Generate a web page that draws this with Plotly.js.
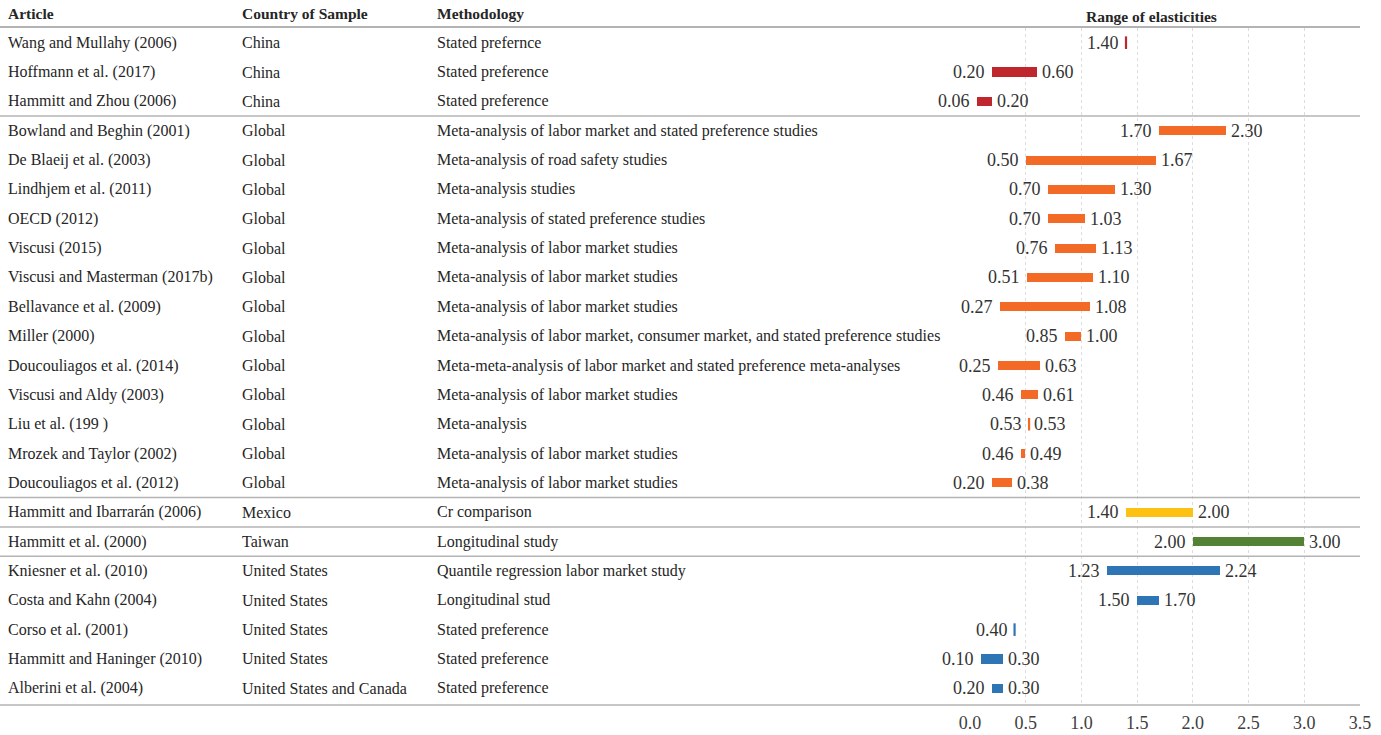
<!DOCTYPE html>
<html>
<head>
<meta charset="utf-8">
<script src="https://cdn.plot.ly/plotly-3.0.1.min.js"></script>
<style>html,body{margin:0;padding:0;background:#fff;}#chart{width:1381px;height:735px;}</style>
</head>
<body>
<div id="chart"></div>
<script>
// ---------- data ----------
const articles = [
  "Wang and Mullahy (2006)", "Hoffmann et al. (2017)", "Hammitt and Zhou (2006)",
  "Bowland and Beghin (2001)", "De Blaeij et al. (2003)", "Lindhjem et al. (2011)",
  "OECD (2012)", "Viscusi (2015)", "Viscusi and Masterman (2017b)", "Bellavance et al. (2009)",
  "Miller (2000)", "Doucouliagos et al. (2014)", "Viscusi and Aldy (2003)", "Liu et al. (199 )",
  "Mrozek and Taylor (2002)", "Doucouliagos et al. (2012)", "Hammitt and Ibarrarán (2006)",
  "Hammitt et al. (2000)", "Kniesner et al. (2010)", "Costa and Kahn (2004)",
  "Corso et al. (2001)", "Hammitt and Haninger (2010)", "Alberini et al. (2004)"
];
const countries = [
  "China", "China", "China",
  "Global", "Global", "Global", "Global", "Global", "Global", "Global",
  "Global", "Global", "Global", "Global", "Global", "Global",
  "Mexico", "Taiwan",
  "United States", "United States", "United States", "United States", "United States and Canada"
];
const methodologies = [
  "Stated prefernce", "Stated preference", "Stated preference",
  "Meta-analysis of labor market and stated preference studies",
  "Meta-analysis of road safety studies",
  "Meta-analysis studies",
  "Meta-analysis of stated preference studies",
  "Meta-analysis of labor market studies",
  "Meta-analysis of labor market studies",
  "Meta-analysis of labor market studies",
  "Meta-analysis of labor market, consumer market, and stated preference studies",
  "Meta-meta-analysis of labor market and stated preference meta-analyses",
  "Meta-analysis of labor market studies",
  "Meta-analysis",
  "Meta-analysis of labor market studies",
  "Meta-analysis of labor market studies",
  "Cr comparison",
  "Longitudinal study",
  "Quantile regression labor market study",
  "Longitudinal stud",
  "Stated preference", "Stated preference", "Stated preference"
];
const lowValues  = [1.40, 0.20, 0.06, 1.70, 0.50, 0.70, 0.70, 0.76, 0.51, 0.27, 0.85, 0.25, 0.46, 0.53, 0.46, 0.20, 1.40, 2.00, 1.23, 1.50, 0.40, 0.10, 0.20];
const highValues = [1.40, 0.60, 0.20, 2.30, 1.67, 1.30, 1.03, 1.13, 1.10, 1.08, 1.00, 0.63, 0.61, 0.53, 0.49, 0.38, 2.00, 3.00, 2.24, 1.70, 0.40, 0.30, 0.30];
// rows whose upper value is not written in the reference
const noHighLabel = ["Wang and Mullahy (2006)", "Corso et al. (2001)"];
const headers = ["Article", "Country of Sample", "Methodology"];
const chartTitle = "Range of elasticities";
const tickValues = [0, 0.5, 1, 1.5, 2, 2.5, 3, 3.5];

// ---------- styles ----------
const groupColors = {
  "China": "#C0262D",
  "Global": "#F26A25",
  "Mexico": "#FDC114",
  "Taiwan": "#548235",
  "United States": "#2E75B6",
  "United States and Canada": "#2E75B6"
};
const W = 1381, H = 735;
const M = {l: 0, r: 0, t: 28, b: 32};
const plotH = H - M.t - M.b;
const serif = "Liberation Serif, Times New Roman, serif";
const colX = [6, 240, 435];
const xDomain = [970 / W, 1360 / W];
const pyToPaper = py => (H - M.b - py) / plotH;

const colors = countries.map(c => groupColors[c]);

// ---------- traces ----------
const bars = {
  type: "bar",
  orientation: "h",
  y: articles,
  base: lowValues,
  x: highValues.map((h, i) => h - lowValues[i]),
  width: 0.31,
  marker: {color: colors, line: {width: 0}},
  hoverinfo: "skip",
  showlegend: false
};
const pointIdx = lowValues.map((v, i) => i).filter(i => lowValues[i] === highValues[i]);
const points = {
  type: "scatter",
  mode: "markers",
  y: pointIdx.map(i => articles[i]),
  x: pointIdx.map(i => lowValues[i]),
  marker: {symbol: "line-ns", size: 9, line: {width: 2.2, color: pointIdx.map(i => colors[i])}},
  hoverinfo: "skip",
  showlegend: false
};

// ---------- annotations ----------
const ann = [];
headers.forEach((h, k) => ann.push({
  xref: "paper", yref: "paper", x: colX[k] / W, y: pyToPaper(13),
  xanchor: "left", yanchor: "middle", showarrow: false,
  text: "<b>" + h + "</b>", font: {family: serif, size: 15.5, color: "#262626"}
}));
ann.push({
  xref: "paper", yref: "paper", x: 1151 / W, y: pyToPaper(16),
  xanchor: "center", yanchor: "middle", showarrow: false,
  text: "<b>" + chartTitle + "</b>", font: {family: serif, size: 15.5, color: "#262626"}
});
const cols = [articles, countries, methodologies];
cols.forEach((arr, k) => arr.forEach((t, i) => ann.push({
  xref: "paper", yref: "y", x: colX[k] / W, y: articles[i],
  xanchor: "left", yanchor: "middle", showarrow: false,
  text: t, font: {family: serif, size: 16, color: "#262626"}
})));
articles.forEach((a, i) => {
  ann.push({
    xref: "x", yref: "y", x: lowValues[i], y: a, xshift: -5,
    xanchor: "right", yanchor: "middle", showarrow: false,
    text: lowValues[i].toFixed(2), font: {family: serif, size: 18, color: "#333333"}
  });
  if (!noHighLabel.includes(a)) {
    ann.push({
      xref: "x", yref: "y", x: highValues[i], y: a, xshift: 3,
      xanchor: "left", yanchor: "middle", showarrow: false,
      text: highValues[i].toFixed(2), font: {family: serif, size: 18, color: "#333333"}
    });
  }
});

// ---------- separators ----------
const lineX1 = xDomain[1];
const shapes = [];
const hline = (py, color) => shapes.push({
  type: "line", xref: "paper", yref: "paper", x0: 0, x1: lineX1,
  y0: pyToPaper(py), y1: pyToPaper(py), line: {color: color, width: 1.5}
});
hline(27, "#9a9a9a");
hline(705, "#b4b4b4");
countries.forEach((c, i) => {
  if (i > 0 && groupColors[c] !== groupColors[countries[i - 1]]) {
    shapes.push({
      type: "line", xref: "paper", yref: "y", x0: 0, x1: lineX1, y0: i - 0.5, y1: i - 0.5,
      line: {color: "#b4b4b4", width: 1.5}
    });
  }
});

const layout = {
  width: W, height: H,
  margin: M,
  paper_bgcolor: "#ffffff", plot_bgcolor: "#ffffff",
  showlegend: false,
  bargap: 0,
  xaxis: {
    domain: xDomain,
    range: [0, 3.5],
    tickvals: tickValues,
    tickformat: ".1f",
    showgrid: true, gridcolor: "#dcdcdc", griddash: "dot", gridwidth: 1,
    zeroline: false, showline: false, ticks: "",
    ticklabelstandoff: 7,
    tickfont: {family: serif, size: 18, color: "#404040"},
    fixedrange: true
  },
  yaxis: {
    type: "category",
    categoryorder: "array", categoryarray: articles,
    range: [articles.length - 0.5, -0.5],
    showticklabels: false, showgrid: false, zeroline: false, showline: false, ticks: "",
    fixedrange: true
  },
  annotations: ann,
  shapes: shapes
};

Plotly.newPlot("chart", [bars, points], layout, {displayModeBar: false, staticPlot: true});
</script>
</body>
</html>
